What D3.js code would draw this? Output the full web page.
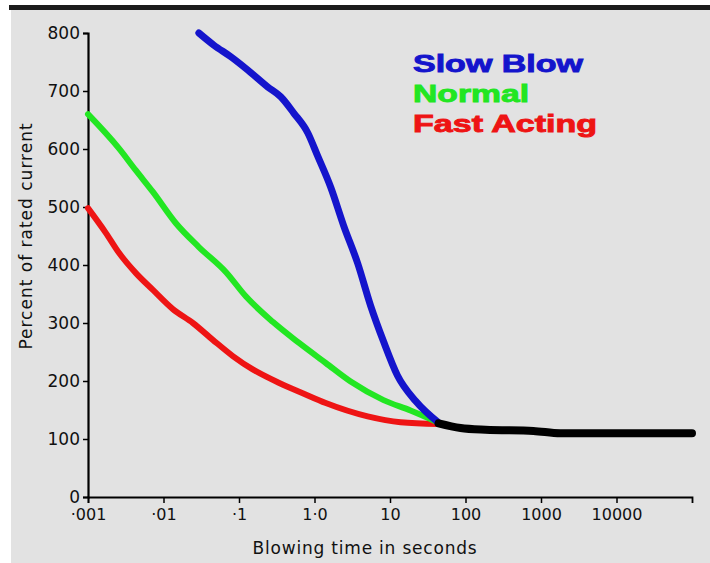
<!DOCTYPE html>
<html>
<head>
<meta charset="utf-8">
<script src="https://cdn.jsdelivr.net/npm/d3@7"></script>
<style>
  body { margin: 0; background: #fff; }
  svg { display: block; }
</style>
</head>
<body>
<svg id="chart" width="710" height="563"></svg>
<script>
// time in seconds, percent of rated current
const slowBlowT = [0.0294, 0.0465, 0.078, 0.131, 0.24, 0.357, 0.531, 0.813, 1.10, 1.64, 2.43, 3.73, 5.53, 8.22, 12.5, 22, 44];
const slowBlowV = [800, 779, 759, 736, 707, 690, 662, 628, 588, 534, 468, 403, 330, 268, 210, 165, 128];

const normalT = [0.001, 0.00257, 0.00431, 0.00724, 0.0146, 0.0294, 0.0669, 0.123, 0.28, 0.618, 1.41, 3.01, 8.22, 18.7, 44];
const normalV = [660, 601, 563, 526, 472, 431, 388, 346, 302, 266, 231, 199, 167, 149, 128];

const fastT = [0.001, 0.00173, 0.00257, 0.00431, 0.00724, 0.0133, 0.0245, 0.045, 0.0828, 0.152, 0.336, 0.698, 1.41, 5.06, 13.8, 44];
const fastV = [498, 455, 421, 386, 357, 324, 300, 271, 243, 220, 197, 179, 162, 139, 129, 126];

const tailT = [44, 86, 184, 793, 1800, 100000];
const tailV = [127, 119, 116, 114, 110, 110];

const xTickValues = [0.001, 0.01, 0.1, 1, 10, 100, 1000, 10000];
const xTickLabels = ["·001", "·01", "·1", "1·0", "10", "100", "1000", "10000"];
const yTickValues = [0, 100, 200, 300, 400, 500, 600, 700, 800];

const legendNames = ["Slow Blow", "Normal", "Fast Acting"];
const legendColors = ["#1414cc", "#22e622", "#ee1414"];

const svg = d3.select("#chart");

// scan background
svg.append("rect").attr("x", 11).attr("y", 10).attr("width", 699).attr("height", 553).attr("fill", "#e2e2e2");
svg.append("rect").attr("x", 9).attr("y", 5).attr("width", 701).attr("height", 5).attr("fill", "#1c1c1c");

const x = d3.scaleLog().domain([0.001, 100000]).range([88, 692]);
const y = d3.scaleLinear().domain([0, 800]).range([497, 33]);

const font = "'DejaVu Sans', sans-serif";

// axes
const xAxis = svg.append("g")
  .attr("transform", "translate(0," + y(0) + ")")
  .call(d3.axisBottom(x).tickValues(xTickValues).tickFormat((d, i) => xTickLabels[i]).tickSize(6).tickPadding(6));
xAxis.select(".domain").attr("stroke-width", 1.8);
xAxis.selectAll("line").attr("stroke-width", 1.5);
xAxis.selectAll("text").attr("font-family", font).attr("font-size", 16).attr("fill", "#111");

const yAxis = svg.append("g")
  .attr("transform", "translate(" + x(0.001) + ",0)")
  .call(d3.axisLeft(y).tickValues(yTickValues).tickSize(5).tickPadding(3));
yAxis.select(".domain").attr("stroke-width", 2.2);
yAxis.selectAll("line").attr("stroke-width", 1.5);
yAxis.selectAll("text").attr("font-family", font).attr("font-size", 17).attr("fill", "#111");

// axis titles
svg.append("text")
  .attr("x", 365).attr("y", 554)
  .attr("text-anchor", "middle")
  .attr("font-family", font).attr("font-size", 17).attr("letter-spacing", 0.8).attr("fill", "#111")
  .text("Blowing time in seconds");

svg.append("text")
  .attr("transform", "translate(32,236) rotate(-90)")
  .attr("text-anchor", "middle")
  .attr("font-family", font).attr("font-size", 17).attr("letter-spacing", 1).attr("fill", "#111")
  .text("Percent of rated current");

// curves
const line = d3.line()
  .x(d => x(d[0]))
  .y(d => y(d[1]))
  .curve(d3.curveMonotoneX);

const series = [
  { t: fastT, v: fastV, color: legendColors[2], w: 6 },
  { t: normalT, v: normalV, color: legendColors[1], w: 6 },
  { t: slowBlowT, v: slowBlowV, color: legendColors[0], w: 7 },
  { t: tailT, v: tailV, color: "#000", w: 8 }
];

series.forEach(s => {
  svg.append("path")
    .datum(s.t.map((t, i) => [t, s.v[i]]))
    .attr("d", line)
    .attr("fill", "none")
    .attr("stroke", s.color)
    .attr("stroke-width", s.w)
    .attr("stroke-linecap", "round")
    .attr("stroke-linejoin", "round");
});

// legend
const legendWidths = [170, 116, 184];
legendNames.forEach((name, i) => {
  svg.append("text")
    .attr("x", 413).attr("y", 72 + i * 30)
    .attr("font-family", "'Liberation Sans', Arial, sans-serif")
    .attr("font-weight", "bold")
    .attr("font-size", 24)
    .attr("textLength", legendWidths[i])
    .attr("lengthAdjust", "spacingAndGlyphs")
    .attr("fill", legendColors[i])
    .attr("stroke", legendColors[i])
    .attr("stroke-width", 0.9)
    .text(name);
});
</script>
</body>
</html>
